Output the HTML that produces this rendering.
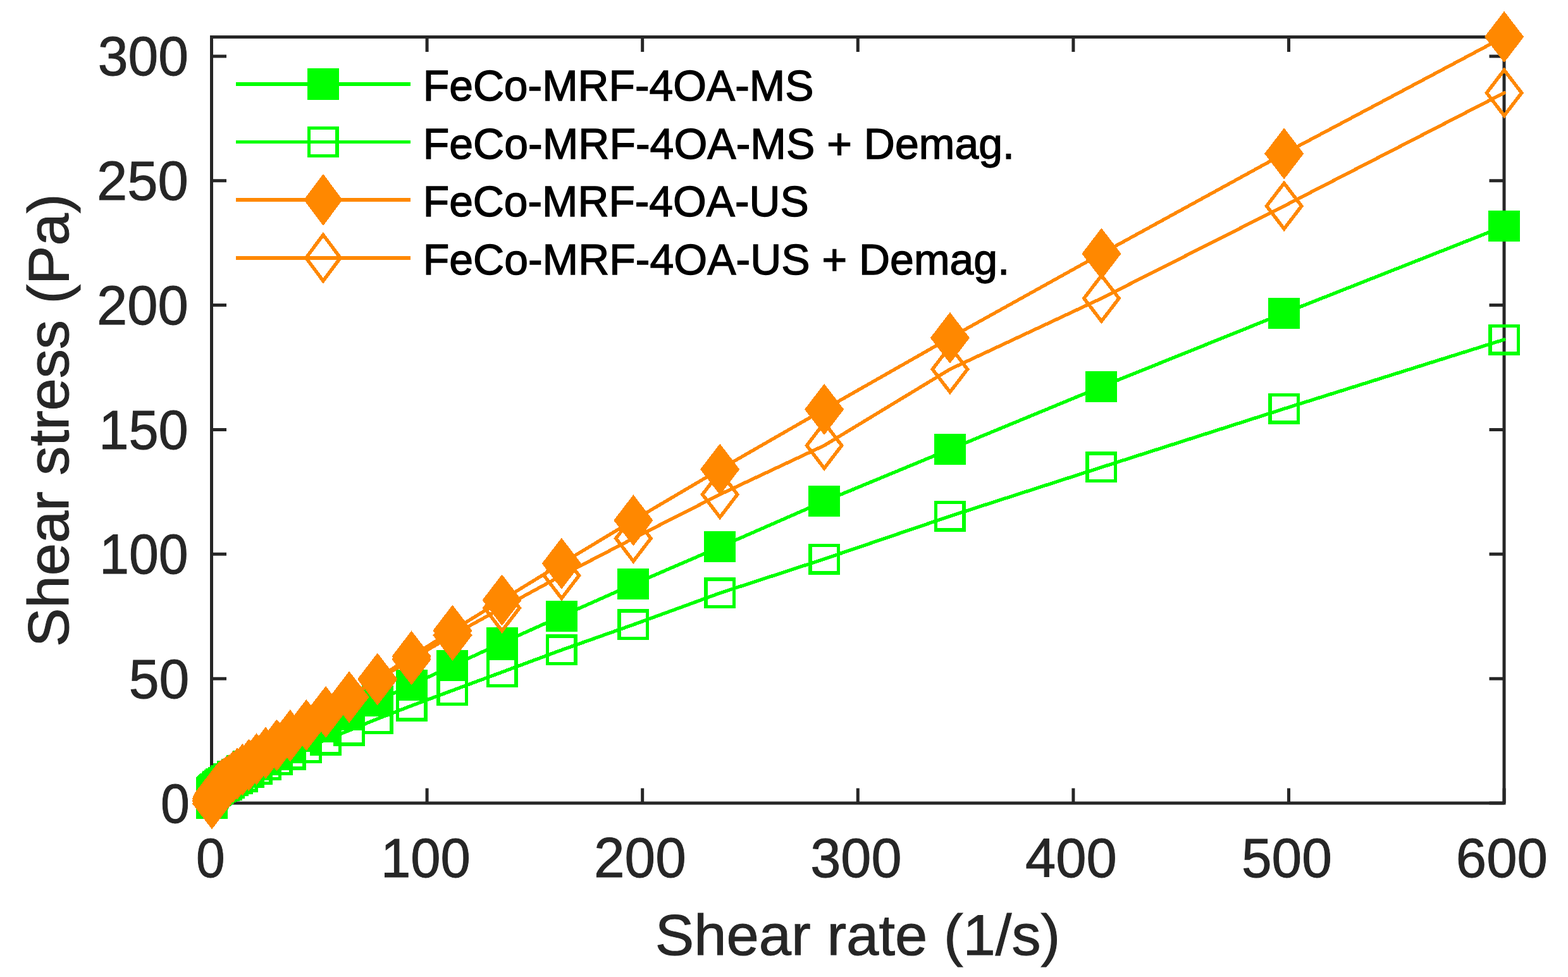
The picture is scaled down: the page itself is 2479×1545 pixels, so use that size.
<!DOCTYPE html>
<html><head><meta charset="utf-8"><title>Shear stress vs shear rate</title>
<style>html,body{margin:0;padding:0;background:#fff;}svg{display:block;}
text{font-family:"Liberation Sans",Arial,Helvetica,sans-serif;}</style></head>
<body><svg width="2479" height="1545" viewBox="0 0 2479 1545">
<rect width="2479" height="1545" fill="#fff"/>
<g stroke="#262626" stroke-width="5" fill="none"><rect x="334.5" y="58.5" width="2043.5" height="1211.5"/><path d="M334.50,1270.0V1246.5M334.50,58.5V82.0M675.10,1270.0V1246.5M675.10,58.5V82.0M1015.70,1270.0V1246.5M1015.70,58.5V82.0M1356.30,1270.0V1246.5M1356.30,58.5V82.0M1696.90,1270.0V1246.5M1696.90,58.5V82.0M2037.50,1270.0V1246.5M2037.50,58.5V82.0M2378.10,1270.0V1246.5M2378.10,58.5V82.0M334.5,1270.00H358.0M2378.0,1270.00H2354.5M334.5,1073.15H358.0M2378.0,1073.15H2354.5M334.5,876.30H358.0M2378.0,876.30H2354.5M334.5,679.45H358.0M2378.0,679.45H2354.5M334.5,482.60H358.0M2378.0,482.60H2354.5M334.5,285.75H358.0M2378.0,285.75H2354.5M334.5,88.90H358.0M2378.0,88.90H2354.5"/></g>
<text transform="translate(310.10,1387.30) scale(0.9326,1)" font-size="88" fill="#262626" stroke="#262626" stroke-width="1.0">0</text><text transform="translate(602.00,1387.30) scale(0.9667,1)" font-size="88" fill="#262626" stroke="#262626" stroke-width="1.0">100</text><text transform="translate(938.99,1387.30) scale(0.9931,1)" font-size="88" fill="#262626" stroke="#262626" stroke-width="1.0">200</text><text transform="translate(1281.25,1387.30) scale(0.9823,1)" font-size="88" fill="#262626" stroke="#262626" stroke-width="1.0">300</text><text transform="translate(1621.03,1387.30) scale(0.9866,1)" font-size="88" fill="#262626" stroke="#262626" stroke-width="1.0">400</text><text transform="translate(1962.98,1387.30) scale(0.9730,1)" font-size="88" fill="#262626" stroke="#262626" stroke-width="1.0">500</text><text transform="translate(2301.85,1387.30) scale(0.9879,1)" font-size="88" fill="#262626" stroke="#262626" stroke-width="1.0">600</text><text transform="translate(253.89,1300.50) scale(0.9372,1)" font-size="88" fill="#262626" stroke="#262626" stroke-width="1.0">0</text><text transform="translate(203.77,1103.65) scale(0.9761,1)" font-size="88" fill="#262626" stroke="#262626" stroke-width="1.0">50</text><text transform="translate(157.26,906.80) scale(0.9565,1)" font-size="88" fill="#262626" stroke="#262626" stroke-width="1.0">100</text><text transform="translate(156.22,709.95) scale(0.9638,1)" font-size="88" fill="#262626" stroke="#262626" stroke-width="1.0">150</text><text transform="translate(152.95,513.10) scale(0.9864,1)" font-size="88" fill="#262626" stroke="#262626" stroke-width="1.0">200</text><text transform="translate(152.95,316.25) scale(0.9864,1)" font-size="88" fill="#262626" stroke="#262626" stroke-width="1.0">250</text><text transform="translate(154.78,119.40) scale(0.9745,1)" font-size="88" fill="#262626" stroke="#262626" stroke-width="1.0">300</text>
<text transform="translate(1035.80,1509.80) scale(1.0245,1)" font-size="90" fill="#262626" stroke="#262626" stroke-width="1.0">Shear rate (1/s)</text>
<text transform="translate(107.80,1022.89) rotate(-90) scale(1.0230,1)" font-size="90" fill="#262626" stroke="#262626" stroke-width="1.0">Shear stress (Pa)</text>
<path d="M2378.10,357.90 L2030.15,495.20 L1741.45,611.50 L1501.90,710.50 L1303.13,792.80 L1138.21,864.90 L1001.37,923.90 L887.83,974.30 L793.62,1016.60 L715.45,1052.80 L650.59,1083.00 L596.77,1108.10 L552.11,1130.30 L515.06,1149.30 L484.32,1164.00 L458.81,1182.00 L437.65,1189.38 L420.08,1196.76 L405.51,1204.14 L393.42,1211.52 L383.39,1218.90 L375.07,1224.00 L368.16,1227.90 L362.43,1231.90 L357.67,1234.70 L353.73,1237.70 L350.45,1239.70 L347.74,1241.80 L345.48,1243.40 L343.61,1245.00 L342.06,1247.00 L340.77,1247.80 L339.71,1248.60 L338.82,1249.40 L338.08,1250.20 L337.47,1251.00 L336.97,1251.80 L336.55,1252.60 L336.20,1252.93 L335.91,1253.27 L335.67,1253.60 L335.47,1253.93 L335.31,1254.27 L335.17,1254.60 L335.05,1270.00" fill="none" stroke="#00FF00" stroke-width="5.4" stroke-linejoin="round" stroke-linecap="round" shape-rendering="crispEdges"/>
<path d="M2353.10,333.40h50.0v49.0h-50.0zM2005.15,470.70h50.0v49.0h-50.0zM1716.45,587.00h50.0v49.0h-50.0zM1476.90,686.00h50.0v49.0h-50.0zM1278.13,768.30h50.0v49.0h-50.0zM1113.21,840.40h50.0v49.0h-50.0zM976.37,899.40h50.0v49.0h-50.0zM862.83,949.80h50.0v49.0h-50.0zM768.62,992.10h50.0v49.0h-50.0zM690.45,1028.30h50.0v49.0h-50.0zM625.59,1058.50h50.0v49.0h-50.0zM571.77,1083.60h50.0v49.0h-50.0zM527.11,1105.80h50.0v49.0h-50.0zM490.06,1124.80h50.0v49.0h-50.0zM459.32,1139.50h50.0v49.0h-50.0zM433.81,1157.50h50.0v49.0h-50.0zM412.65,1164.88h50.0v49.0h-50.0zM395.08,1172.26h50.0v49.0h-50.0zM380.51,1179.64h50.0v49.0h-50.0zM368.42,1187.02h50.0v49.0h-50.0zM358.39,1194.40h50.0v49.0h-50.0zM350.07,1199.50h50.0v49.0h-50.0zM343.16,1203.40h50.0v49.0h-50.0zM337.43,1207.40h50.0v49.0h-50.0zM332.67,1210.20h50.0v49.0h-50.0zM328.73,1213.20h50.0v49.0h-50.0zM325.45,1215.20h50.0v49.0h-50.0zM322.74,1217.30h50.0v49.0h-50.0zM320.48,1218.90h50.0v49.0h-50.0zM318.61,1220.50h50.0v49.0h-50.0zM317.06,1222.50h50.0v49.0h-50.0zM315.77,1223.30h50.0v49.0h-50.0zM314.71,1224.10h50.0v49.0h-50.0zM313.82,1224.90h50.0v49.0h-50.0zM313.08,1225.70h50.0v49.0h-50.0zM312.47,1226.50h50.0v49.0h-50.0zM311.97,1227.30h50.0v49.0h-50.0zM311.55,1228.10h50.0v49.0h-50.0zM311.20,1228.43h50.0v49.0h-50.0zM310.91,1228.77h50.0v49.0h-50.0zM310.67,1229.10h50.0v49.0h-50.0zM310.47,1229.43h50.0v49.0h-50.0zM310.31,1229.77h50.0v49.0h-50.0zM310.17,1230.10h50.0v49.0h-50.0zM310.05,1245.50h50.0v49.0h-50.0z" fill="#00FF00" fill-rule="nonzero" shape-rendering="crispEdges"/>
<path d="M2378.10,537.00 L2030.15,646.40 L1741.45,738.90 L1501.90,816.30 L1303.13,884.00 L1138.21,937.90 L1001.37,987.80 L887.83,1027.90 L793.62,1062.90 L715.45,1091.80 L650.59,1116.00 L596.77,1136.70 L552.11,1155.00 L515.06,1170.00 L484.32,1182.80 L458.81,1193.00 L437.65,1201.90 L420.08,1209.90 L405.51,1216.90 L393.42,1221.90 L383.39,1228.10 L375.07,1231.00 L368.16,1234.90 L362.43,1238.10 L357.67,1241.10 L353.73,1242.30 L350.45,1243.50 L347.74,1244.85 L345.48,1246.20 L343.61,1247.22 L342.06,1248.25 L340.77,1249.28 L339.71,1250.30 L338.82,1250.89 L338.08,1251.47 L337.47,1252.06 L336.97,1252.65 L336.55,1253.24 L336.20,1253.83 L335.91,1254.41 L335.67,1255.00 L335.47,1255.83 L335.31,1256.67 L335.17,1257.50 L335.05,1270.00" fill="none" stroke="#00FF00" stroke-width="5.4" stroke-linejoin="round" stroke-linecap="round" shape-rendering="crispEdges"/>
<path d="M2353.10,512.50h50.0v49.0h-50.0zM2358.60,518.00v38.00h39.00v-38.00zM2005.15,621.90h50.0v49.0h-50.0zM2010.65,627.40v38.00h39.00v-38.00zM1716.45,714.40h50.0v49.0h-50.0zM1721.95,719.90v38.00h39.00v-38.00zM1476.90,791.80h50.0v49.0h-50.0zM1482.40,797.30v38.00h39.00v-38.00zM1278.13,859.50h50.0v49.0h-50.0zM1283.63,865.00v38.00h39.00v-38.00zM1113.21,913.40h50.0v49.0h-50.0zM1118.71,918.90v38.00h39.00v-38.00zM976.37,963.30h50.0v49.0h-50.0zM981.87,968.80v38.00h39.00v-38.00zM862.83,1003.40h50.0v49.0h-50.0zM868.33,1008.90v38.00h39.00v-38.00zM768.62,1038.40h50.0v49.0h-50.0zM774.12,1043.90v38.00h39.00v-38.00zM690.45,1067.30h50.0v49.0h-50.0zM695.95,1072.80v38.00h39.00v-38.00zM625.59,1091.50h50.0v49.0h-50.0zM631.09,1097.00v38.00h39.00v-38.00zM571.77,1112.20h50.0v49.0h-50.0zM577.27,1117.70v38.00h39.00v-38.00zM527.11,1130.50h50.0v49.0h-50.0zM532.61,1136.00v38.00h39.00v-38.00zM490.06,1145.50h50.0v49.0h-50.0zM495.56,1151.00v38.00h39.00v-38.00zM459.32,1158.30h50.0v49.0h-50.0zM464.82,1163.80v38.00h39.00v-38.00zM433.81,1168.50h50.0v49.0h-50.0zM439.31,1174.00v38.00h39.00v-38.00zM412.65,1177.40h50.0v49.0h-50.0zM418.15,1182.90v38.00h39.00v-38.00zM395.08,1185.40h50.0v49.0h-50.0zM400.58,1190.90v38.00h39.00v-38.00zM380.51,1192.40h50.0v49.0h-50.0zM386.01,1197.90v38.00h39.00v-38.00zM368.42,1197.40h50.0v49.0h-50.0zM373.92,1202.90v38.00h39.00v-38.00zM358.39,1203.60h50.0v49.0h-50.0zM363.89,1209.10v38.00h39.00v-38.00zM350.07,1206.50h50.0v49.0h-50.0zM355.57,1212.00v38.00h39.00v-38.00zM343.16,1210.40h50.0v49.0h-50.0zM348.66,1215.90v38.00h39.00v-38.00zM337.43,1213.60h50.0v49.0h-50.0zM342.93,1219.10v38.00h39.00v-38.00zM332.67,1216.60h50.0v49.0h-50.0zM338.17,1222.10v38.00h39.00v-38.00zM328.73,1217.80h50.0v49.0h-50.0zM334.23,1223.30v38.00h39.00v-38.00zM325.45,1219.00h50.0v49.0h-50.0zM330.95,1224.50v38.00h39.00v-38.00zM322.74,1220.35h50.0v49.0h-50.0zM328.24,1225.85v38.00h39.00v-38.00zM320.48,1221.70h50.0v49.0h-50.0zM325.98,1227.20v38.00h39.00v-38.00zM318.61,1222.72h50.0v49.0h-50.0zM324.11,1228.22v38.00h39.00v-38.00zM317.06,1223.75h50.0v49.0h-50.0zM322.56,1229.25v38.00h39.00v-38.00zM315.77,1224.78h50.0v49.0h-50.0zM321.27,1230.28v38.00h39.00v-38.00zM314.71,1225.80h50.0v49.0h-50.0zM320.21,1231.30v38.00h39.00v-38.00zM313.82,1226.39h50.0v49.0h-50.0zM319.32,1231.89v38.00h39.00v-38.00zM313.08,1226.97h50.0v49.0h-50.0zM318.58,1232.47v38.00h39.00v-38.00zM312.47,1227.56h50.0v49.0h-50.0zM317.97,1233.06v38.00h39.00v-38.00zM311.97,1228.15h50.0v49.0h-50.0zM317.47,1233.65v38.00h39.00v-38.00zM311.55,1228.74h50.0v49.0h-50.0zM317.05,1234.24v38.00h39.00v-38.00zM311.20,1229.33h50.0v49.0h-50.0zM316.70,1234.83v38.00h39.00v-38.00zM310.91,1229.91h50.0v49.0h-50.0zM316.41,1235.41v38.00h39.00v-38.00zM310.67,1230.50h50.0v49.0h-50.0zM316.17,1236.00v38.00h39.00v-38.00zM310.47,1231.33h50.0v49.0h-50.0zM315.97,1236.83v38.00h39.00v-38.00zM310.31,1232.17h50.0v49.0h-50.0zM315.81,1237.67v38.00h39.00v-38.00zM310.17,1233.00h50.0v49.0h-50.0zM315.67,1238.50v38.00h39.00v-38.00zM310.05,1245.50h50.0v49.0h-50.0zM315.55,1251.00v38.00h39.00v-38.00z" fill="#00FF00" fill-rule="nonzero" shape-rendering="crispEdges"/>
<path d="M2378.10,58.30 L2030.15,242.95 L1741.45,401.20 L1501.90,534.30 L1303.13,647.40 L1138.21,742.20 L1001.37,822.90 L887.83,891.10 L793.62,949.00 L715.45,997.20 L650.59,1038.00 L596.77,1073.20 L552.11,1102.00 L515.06,1126.20 L484.32,1146.90 L458.81,1162.70 L437.65,1178.00 L420.08,1190.00 L405.51,1200.00 L393.42,1209.30 L383.39,1216.50 L375.07,1223.00 L368.16,1228.10 L362.43,1233.10 L357.67,1236.15 L353.73,1238.96 L350.45,1241.53 L347.74,1243.88 L345.48,1246.05 L343.61,1248.03 L342.06,1249.85 L340.77,1251.52 L339.71,1253.05 L338.82,1254.45 L338.08,1255.74 L337.47,1256.92 L336.97,1258.00 L336.55,1258.99 L336.20,1259.91 L335.91,1260.74 L335.67,1261.51 L335.47,1262.21 L335.31,1262.86 L335.17,1266.00 L335.05,1270.80" fill="none" stroke="#FF8800" stroke-width="5.4" stroke-linejoin="round" stroke-linecap="round" shape-rendering="crispEdges"/>
<path d="M2378.10,17.70L2409.20,58.30L2378.10,98.90L2347.00,58.30zM2030.15,202.35L2061.25,242.95L2030.15,283.55L1999.05,242.95zM1741.45,360.60L1772.55,401.20L1741.45,441.80L1710.35,401.20zM1501.90,493.70L1533.00,534.30L1501.90,574.90L1470.80,534.30zM1303.13,606.80L1334.23,647.40L1303.13,688.00L1272.03,647.40zM1138.21,701.60L1169.31,742.20L1138.21,782.80L1107.11,742.20zM1001.37,782.30L1032.47,822.90L1001.37,863.50L970.27,822.90zM887.83,850.50L918.93,891.10L887.83,931.70L856.73,891.10zM793.62,908.40L824.72,949.00L793.62,989.60L762.52,949.00zM715.45,956.60L746.55,997.20L715.45,1037.80L684.35,997.20zM650.59,997.40L681.69,1038.00L650.59,1078.60L619.49,1038.00zM596.77,1032.60L627.87,1073.20L596.77,1113.80L565.67,1073.20zM552.11,1061.40L583.21,1102.00L552.11,1142.60L521.01,1102.00zM515.06,1085.60L546.16,1126.20L515.06,1166.80L483.96,1126.20zM484.32,1106.30L515.42,1146.90L484.32,1187.50L453.22,1146.90zM458.81,1122.10L489.91,1162.70L458.81,1203.30L427.71,1162.70zM437.65,1137.40L468.75,1178.00L437.65,1218.60L406.55,1178.00zM420.08,1149.40L451.18,1190.00L420.08,1230.60L388.98,1190.00zM405.51,1159.40L436.61,1200.00L405.51,1240.60L374.41,1200.00zM393.42,1168.70L424.52,1209.30L393.42,1249.90L362.32,1209.30zM383.39,1175.90L414.49,1216.50L383.39,1257.10L352.29,1216.50zM375.07,1182.40L406.17,1223.00L375.07,1263.60L343.97,1223.00zM368.16,1187.50L399.26,1228.10L368.16,1268.70L337.06,1228.10zM362.43,1192.50L393.53,1233.10L362.43,1273.70L331.33,1233.10zM357.67,1195.55L388.77,1236.15L357.67,1276.75L326.57,1236.15zM353.73,1198.36L384.83,1238.96L353.73,1279.56L322.63,1238.96zM350.45,1200.93L381.55,1241.53L350.45,1282.13L319.35,1241.53zM347.74,1203.28L378.84,1243.88L347.74,1284.48L316.64,1243.88zM345.48,1205.45L376.58,1246.05L345.48,1286.65L314.38,1246.05zM343.61,1207.43L374.71,1248.03L343.61,1288.63L312.51,1248.03zM342.06,1209.25L373.16,1249.85L342.06,1290.45L310.96,1249.85zM340.77,1210.92L371.87,1251.52L340.77,1292.12L309.67,1251.52zM339.71,1212.45L370.81,1253.05L339.71,1293.65L308.61,1253.05zM338.82,1213.85L369.92,1254.45L338.82,1295.05L307.72,1254.45zM338.08,1215.14L369.18,1255.74L338.08,1296.34L306.98,1255.74zM337.47,1216.32L368.57,1256.92L337.47,1297.52L306.37,1256.92zM336.97,1217.40L368.07,1258.00L336.97,1298.60L305.87,1258.00zM336.55,1218.39L367.65,1258.99L336.55,1299.59L305.45,1258.99zM336.20,1219.31L367.30,1259.91L336.20,1300.51L305.10,1259.91zM335.91,1220.14L367.01,1260.74L335.91,1301.34L304.81,1260.74zM335.67,1220.91L366.77,1261.51L335.67,1302.11L304.57,1261.51zM335.47,1221.61L366.57,1262.21L335.47,1302.81L304.37,1262.21zM335.31,1222.26L366.41,1262.86L335.31,1303.46L304.21,1262.86zM335.17,1225.40L366.27,1266.00L335.17,1306.60L304.07,1266.00zM335.05,1230.20L366.15,1270.80L335.05,1311.40L303.95,1270.80z" fill="#FF8800" fill-rule="nonzero" shape-rendering="crispEdges"/>
<path d="M2378.10,146.85 L2030.15,325.80 L1741.45,471.80 L1501.90,583.90 L1303.13,704.50 L1138.21,781.90 L1001.37,851.40 L887.83,910.20 L793.62,961.50 L715.45,1004.50 L650.59,1042.80 L596.77,1075.00 L552.11,1102.70 L515.06,1125.50 L484.32,1146.60 L458.81,1164.00 L437.65,1179.00 L420.08,1191.00 L405.51,1201.00 L393.42,1210.30 L383.39,1217.50 L375.07,1224.00 L368.16,1229.10 L362.43,1234.10 L357.67,1237.15 L353.73,1239.96 L350.45,1242.53 L347.74,1244.88 L345.48,1247.05 L343.61,1249.03 L342.06,1250.85 L340.77,1252.52 L339.71,1254.05 L338.82,1255.45 L338.08,1256.74 L337.47,1257.92 L336.97,1259.00 L336.55,1259.99 L336.20,1260.91 L335.91,1261.74 L335.67,1262.51 L335.47,1263.21 L335.31,1263.86 L335.17,1267.00 L335.05,1270.80" fill="none" stroke="#FF8800" stroke-width="5.4" stroke-linejoin="round" stroke-linecap="round" shape-rendering="crispEdges"/>
<path d="M2378.10,106.25L2409.20,146.85L2378.10,187.45L2347.00,146.85zM2378.10,115.29L2353.93,146.85L2378.10,178.41L2402.27,146.85zM2030.15,285.20L2061.25,325.80L2030.15,366.40L1999.05,325.80zM2030.15,294.24L2005.98,325.80L2030.15,357.36L2054.32,325.80zM1741.45,431.20L1772.55,471.80L1741.45,512.40L1710.35,471.80zM1741.45,440.24L1717.27,471.80L1741.45,503.36L1765.62,471.80zM1501.90,543.30L1533.00,583.90L1501.90,624.50L1470.80,583.90zM1501.90,552.34L1477.73,583.90L1501.90,615.46L1526.07,583.90zM1303.13,663.90L1334.23,704.50L1303.13,745.10L1272.03,704.50zM1303.13,672.94L1278.96,704.50L1303.13,736.06L1327.31,704.50zM1138.21,741.30L1169.31,781.90L1138.21,822.50L1107.11,781.90zM1138.21,750.34L1114.04,781.90L1138.21,813.46L1162.38,781.90zM1001.37,810.80L1032.47,851.40L1001.37,892.00L970.27,851.40zM1001.37,819.84L977.20,851.40L1001.37,882.96L1025.54,851.40zM887.83,869.60L918.93,910.20L887.83,950.80L856.73,910.20zM887.83,878.64L863.66,910.20L887.83,941.76L912.00,910.20zM793.62,920.90L824.72,961.50L793.62,1002.10L762.52,961.50zM793.62,929.94L769.44,961.50L793.62,993.06L817.79,961.50zM715.45,963.90L746.55,1004.50L715.45,1045.10L684.35,1004.50zM715.45,972.94L691.27,1004.50L715.45,1036.06L739.62,1004.50zM650.59,1002.20L681.69,1042.80L650.59,1083.40L619.49,1042.80zM650.59,1011.24L626.41,1042.80L650.59,1074.36L674.76,1042.80zM596.77,1034.40L627.87,1075.00L596.77,1115.60L565.67,1075.00zM596.77,1043.44L572.60,1075.00L596.77,1106.56L620.94,1075.00zM552.11,1062.10L583.21,1102.70L552.11,1143.30L521.01,1102.70zM552.11,1071.14L527.94,1102.70L552.11,1134.26L576.29,1102.70zM515.06,1084.90L546.16,1125.50L515.06,1166.10L483.96,1125.50zM515.06,1093.94L490.89,1125.50L515.06,1157.06L539.23,1125.50zM484.32,1106.00L515.42,1146.60L484.32,1187.20L453.22,1146.60zM484.32,1115.04L460.15,1146.60L484.32,1178.16L508.49,1146.60zM458.81,1123.40L489.91,1164.00L458.81,1204.60L427.71,1164.00zM458.81,1132.44L434.64,1164.00L458.81,1195.56L482.98,1164.00zM437.65,1138.40L468.75,1179.00L437.65,1219.60L406.55,1179.00zM437.65,1147.44L413.47,1179.00L437.65,1210.56L461.82,1179.00zM420.08,1150.40L451.18,1191.00L420.08,1231.60L388.98,1191.00zM420.08,1159.44L395.91,1191.00L420.08,1222.56L444.26,1191.00zM405.51,1160.40L436.61,1201.00L405.51,1241.60L374.41,1201.00zM405.51,1169.44L381.34,1201.00L405.51,1232.56L429.68,1201.00zM393.42,1169.70L424.52,1210.30L393.42,1250.90L362.32,1210.30zM393.42,1178.74L369.25,1210.30L393.42,1241.86L417.59,1210.30zM383.39,1176.90L414.49,1217.50L383.39,1258.10L352.29,1217.50zM383.39,1185.94L359.22,1217.50L383.39,1249.06L407.56,1217.50zM375.07,1183.40L406.17,1224.00L375.07,1264.60L343.97,1224.00zM375.07,1192.44L350.89,1224.00L375.07,1255.56L399.24,1224.00zM368.16,1188.50L399.26,1229.10L368.16,1269.70L337.06,1229.10zM368.16,1197.54L343.99,1229.10L368.16,1260.66L392.33,1229.10zM362.43,1193.50L393.53,1234.10L362.43,1274.70L331.33,1234.10zM362.43,1202.54L338.26,1234.10L362.43,1265.66L386.60,1234.10zM357.67,1196.55L388.77,1237.15L357.67,1277.75L326.57,1237.15zM357.67,1205.60L333.50,1237.15L357.67,1268.71L381.84,1237.15zM353.73,1199.36L384.83,1239.96L353.73,1280.56L322.63,1239.96zM353.73,1208.40L329.56,1239.96L353.73,1271.51L377.90,1239.96zM350.45,1201.93L381.55,1242.53L350.45,1283.13L319.35,1242.53zM350.45,1210.97L326.28,1242.53L350.45,1274.08L374.63,1242.53zM347.74,1204.28L378.84,1244.88L347.74,1285.48L316.64,1244.88zM347.74,1213.33L323.57,1244.88L347.74,1276.44L371.91,1244.88zM345.48,1206.45L376.58,1247.05L345.48,1287.65L314.38,1247.05zM345.48,1215.49L321.31,1247.05L345.48,1278.60L369.66,1247.05zM343.61,1208.43L374.71,1249.03L343.61,1289.63L312.51,1249.03zM343.61,1217.47L319.44,1249.03L343.61,1280.58L367.79,1249.03zM342.06,1210.25L373.16,1250.85L342.06,1291.45L310.96,1250.85zM342.06,1219.29L317.89,1250.85L342.06,1282.40L366.23,1250.85zM340.77,1211.92L371.87,1252.52L340.77,1293.12L309.67,1252.52zM340.77,1220.96L316.60,1252.52L340.77,1284.07L364.95,1252.52zM339.71,1213.45L370.81,1254.05L339.71,1294.65L308.61,1254.05zM339.71,1222.49L315.53,1254.05L339.71,1285.60L363.88,1254.05zM338.82,1214.85L369.92,1255.45L338.82,1296.05L307.72,1255.45zM338.82,1223.89L314.65,1255.45L338.82,1287.01L362.99,1255.45zM338.08,1216.14L369.18,1256.74L338.08,1297.34L306.98,1256.74zM338.08,1225.18L313.91,1256.74L338.08,1288.29L362.26,1256.74zM337.47,1217.32L368.57,1257.92L337.47,1298.52L306.37,1257.92zM337.47,1226.36L313.30,1257.92L337.47,1289.47L361.65,1257.92zM336.97,1218.40L368.07,1259.00L336.97,1299.60L305.87,1259.00zM336.97,1227.45L312.80,1259.00L336.97,1290.56L361.14,1259.00zM336.55,1219.39L367.65,1259.99L336.55,1300.59L305.45,1259.99zM336.55,1228.44L312.38,1259.99L336.55,1291.55L360.72,1259.99zM336.20,1220.31L367.30,1260.91L336.20,1301.51L305.10,1260.91zM336.20,1229.35L312.03,1260.91L336.20,1292.46L360.37,1260.91zM335.91,1221.14L367.01,1261.74L335.91,1302.34L304.81,1261.74zM335.91,1230.19L311.74,1261.74L335.91,1293.30L360.08,1261.74zM335.67,1221.91L366.77,1262.51L335.67,1303.11L304.57,1262.51zM335.67,1230.95L311.50,1262.51L335.67,1294.06L359.84,1262.51zM335.47,1222.61L366.57,1263.21L335.47,1303.81L304.37,1263.21zM335.47,1231.66L311.30,1263.21L335.47,1294.77L359.64,1263.21zM335.31,1223.26L366.41,1263.86L335.31,1304.46L304.21,1263.86zM335.31,1232.30L311.13,1263.86L335.31,1295.41L359.48,1263.86zM335.17,1226.40L366.27,1267.00L335.17,1307.60L304.07,1267.00zM335.17,1235.44L311.00,1267.00L335.17,1298.56L359.34,1267.00zM335.05,1230.20L366.15,1270.80L335.05,1311.40L303.95,1270.80zM335.05,1239.24L310.88,1270.80L335.05,1302.36L359.23,1270.80z" fill="#FF8800" fill-rule="nonzero" shape-rendering="crispEdges"/>
<path d="M372.9,133.0H648.9" stroke="#00FF00" stroke-width="5.4" shape-rendering="crispEdges"/><path d="M486.00,108.10h49.9v49.8h-49.9z" fill="#00FF00" fill-rule="nonzero" shape-rendering="crispEdges"/><text transform="translate(668.79,159.10) scale(0.9828,1)" font-size="69" fill="#000" stroke="#000" stroke-width="1.4">FeCo-MRF-4OA-MS</text>
<path d="M372.9,224.5H648.9" stroke="#00FF00" stroke-width="5.4" shape-rendering="crispEdges"/><path d="M485.95,199.90h50v49.2h-50zM491.45,205.40v38.20h39.00v-38.20z" fill="#00FF00" fill-rule="nonzero" shape-rendering="crispEdges"/><text transform="translate(668.77,250.70) scale(0.9855,1)" font-size="69" fill="#000" stroke="#000" stroke-width="1.4">FeCo-MRF-4OA-MS + Demag.</text>
<path d="M372.9,316.0H648.9" stroke="#FF8800" stroke-width="5.4" shape-rendering="crispEdges"/><path d="M510.95,275.00L541.55,316.00L510.95,357.00L480.35,316.00z" fill="#FF8800" fill-rule="nonzero" shape-rendering="crispEdges"/><text transform="translate(668.79,342.30) scale(0.9822,1)" font-size="69" fill="#000" stroke="#000" stroke-width="1.4">FeCo-MRF-4OA-US</text>
<path d="M372.9,407.8H648.9" stroke="#FF8800" stroke-width="5.4" shape-rendering="crispEdges"/><path d="M510.95,366.80L541.55,407.80L510.95,448.80L480.35,407.80zM510.95,376.00L487.21,407.80L510.95,439.60L534.69,407.80z" fill="#FF8800" fill-rule="nonzero" shape-rendering="crispEdges"/><text transform="translate(668.77,433.90) scale(0.9852,1)" font-size="69" fill="#000" stroke="#000" stroke-width="1.4">FeCo-MRF-4OA-US + Demag.</text>
</svg></body></html>
